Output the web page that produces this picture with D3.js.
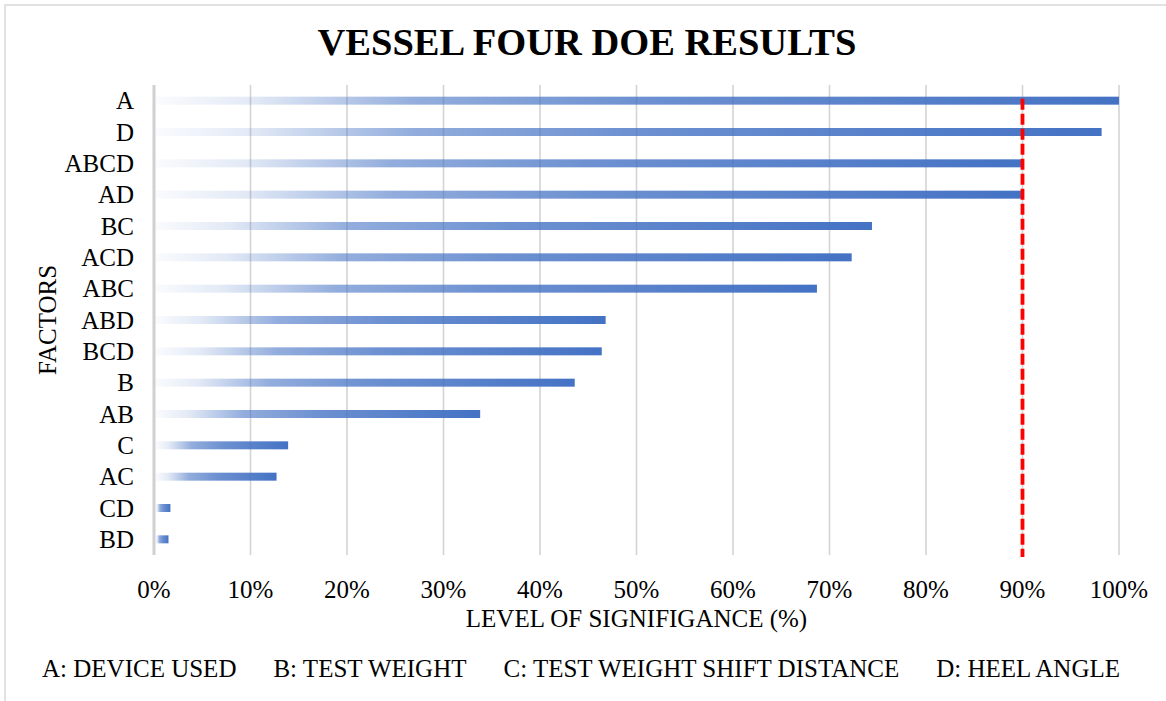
<!DOCTYPE html>
<html>
<head>
<meta charset="utf-8">
<script src="https://cdn.jsdelivr.net/npm/d3@7"></script>
<style>
  body { margin: 0; background: #fff; }
  text { font-family: "Liberation Serif", "Times New Roman", serif; fill: #000; }
</style>
</head>
<body>
<div id="chart"></div>
<script>
// data
var factors = ["A", "D", "ABCD", "AD", "BC", "ACD", "ABC", "ABD", "BCD", "B", "AB", "C", "AC", "CD", "BD"];
var significance = [100, 98.2, 90, 90, 74.4, 72.3, 68.7, 46.8, 46.4, 43.6, 33.8, 13.9, 12.7, 1.7, 1.5];
var xTicks = [0, 10, 20, 30, 40, 50, 60, 70, 80, 90, 100];
var threshold = 90;
var legendItems = ["A: DEVICE USED", "B: TEST WEIGHT", "C: TEST WEIGHT SHIFT DISTANCE", "D: HEEL ANGLE"];

var W = 1166, H = 701;
var margin = { top: 85, right: 47, bottom: 146, left: 154 };
var width = W - margin.left - margin.right,
    height = H - margin.top - margin.bottom;
var fontSize = "25px";

var svg = d3.select("#chart").append("svg")
    .attr("width", W)
    .attr("height", H);

// chart border
svg.append("rect")
    .attr("x", 5).attr("y", 5)
    .attr("width", W + 10).attr("height", H + 10)
    .attr("fill", "none")
    .attr("stroke", "#d9d9d9")
    .attr("stroke-width", 1.5);

// gradient fill, light at left to blue at right (per bar)
var defs = svg.append("defs");
var grad = defs.append("linearGradient")
    .attr("id", "barGrad")
    .attr("x1", "0%").attr("x2", "100%")
    .attr("y1", "0%").attr("y2", "0%");
[[0, 0.03], [0.1, 0.15], [0.2, 0.4], [0.27, 0.58], [0.5, 0.78], [1, 1]].forEach(function(s){
  grad.append("stop")
    .attr("offset", s[0])
    .attr("stop-color", "#4472c4")
    .attr("stop-opacity", s[1]);
});

var g = svg.append("g")
    .attr("transform", "translate(" + margin.left + "," + margin.top + ")");

var x = d3.scaleLinear().domain([0, 100]).range([0, width]);
var y = d3.scaleBand().domain(factors).range([0, height]).paddingInner(0.745).paddingOuter(0.3725);

// gridlines
g.selectAll(".grid")
  .data(xTicks)
  .enter().append("line")
    .attr("class", "grid")
    .attr("x1", function(d){ return x(d); })
    .attr("x2", function(d){ return x(d); })
    .attr("y1", 0)
    .attr("y2", height)
    .attr("stroke", function(d){ return d == 0 ? "#d0d0d0" : "#d4d4d4"; })
    .attr("stroke-width", function(d){ return d == 0 ? 3 : 1.6; });

// bars
var bars = factors.map(function(f, i){ return { factor: f, value: significance[i] }; });

g.selectAll(".bar")
  .data(bars)
  .enter().append("rect")
    .attr("class", "bar")
    .attr("x", x(0) + 2)
    .attr("y", function(d){ return y(d.factor); })
    .attr("width", function(d){ return x(d.value) - x(0) - 2; })
    .attr("height", y.bandwidth())
    .attr("fill", "url(#barGrad)");

// threshold line
g.append("line")
    .attr("x1", x(threshold)).attr("x2", x(threshold))
    .attr("y1", y(factors[0]) + y.bandwidth() / 2 - 2)
    .attr("y2", height + 2)
    .attr("stroke", "#ff0000")
    .attr("stroke-width", 3.8)
    .attr("stroke-dasharray", "11,4");

// y labels
g.selectAll(".ylab")
  .data(factors)
  .enter().append("text")
    .attr("class", "ylab")
    .attr("x", -20)
    .attr("y", function(d){ return y(d) + y.bandwidth() / 2; })
    .attr("dy", "0.35em")
    .attr("text-anchor", "end")
    .style("font-size", fontSize)
    .text(function(d){ return d; });

// x tick labels
g.selectAll(".xlab")
  .data(xTicks)
  .enter().append("text")
    .attr("class", "xlab")
    .attr("x", function(d){ return x(d); })
    .attr("y", height + 43)
    .attr("text-anchor", "middle")
    .style("font-size", fontSize)
    .text(function(d){ return d + "%"; });

// axis titles
svg.append("text")
    .attr("x", margin.left + width / 2)
    .attr("y", 627)
    .attr("text-anchor", "middle")
    .style("font-size", fontSize)
    .text("LEVEL OF SIGNIFIGANCE (%)");

svg.append("text")
    .attr("transform", "translate(56," + (margin.top + height / 2) + ") rotate(-90)")
    .attr("text-anchor", "middle")
    .style("font-size", fontSize)
    .text("FACTORS");

// title
svg.append("text")
    .attr("x", 587)
    .attr("y", 55)
    .attr("text-anchor", "middle")
    .style("font-size", "38.5px")
    .style("font-weight", "bold")
    .text("VESSEL FOUR DOE RESULTS");

// legend line
var legend = svg.append("g").attr("transform", "translate(0,677)");
var texts = legend.selectAll("text")
  .data(legendItems)
  .enter().append("text")
    .style("font-size", fontSize)
    .text(function(d){ return d; });
var lx = 42, gap = 37;
texts.each(function(){
  d3.select(this).attr("x", lx);
  lx += this.getComputedTextLength() + gap;
});
</script>
</body>
</html>
